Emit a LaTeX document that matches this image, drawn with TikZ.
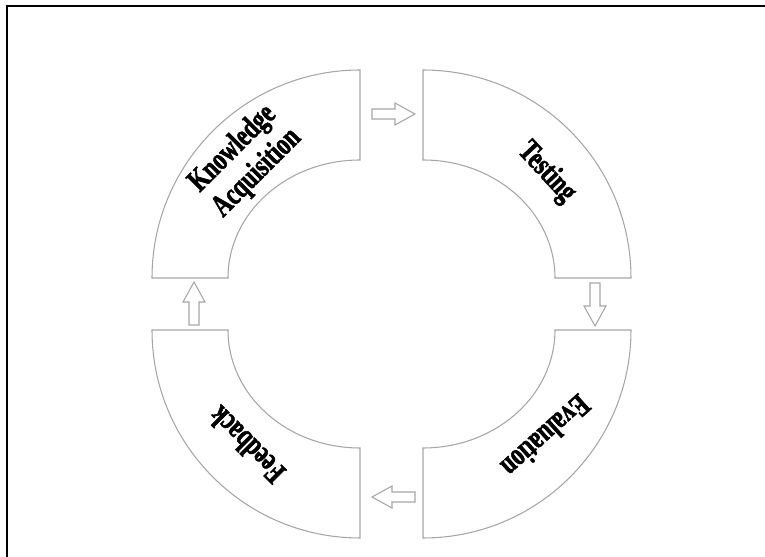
\documentclass[tikz,border=0pt]{standalone}
\usepackage{fontspec}
\setmainfont{Liberation Serif}
\newfontfamily\stagefont[FakeStretch=0.72, FakeBold=1.8]{Liberation Serif}
\usetikzlibrary{calc}

\tikzset{
    piece/.style={draw=black!35, line width=0.6pt, fill=white},
    stage/.style={font=\stagefont\bfseries\fontsize{18}{19.5}\selectfont, align=center, inner sep=0pt},
    blockarrow/.pic={\draw[draw=black!35, line width=0.6pt] (0,-5) -- (23,-5) -- (23,-11)
        -- (43,0) -- (23,11) -- (23,5) -- (0,5) -- cycle;}
}

\begin{document}
\begin{tikzpicture}[x=0.02cm, y=0.02cm]
    \useasboundingbox (-391.5,-253) rectangle (373.5,304);

    \coordinate (K) at (-31.5, 26);
    \coordinate (T) at (31.5, 26);
    \coordinate (E) at (31.5, -26);
    \coordinate (F) at (-31.5, -26);

    \draw[line width=1.2pt] (-384.5,-253) -- (-384.5,298) -- (373.5,298);

    \draw[piece] ($(K)+(-208,0)$) arc[start angle=180, end angle=90, radius=208]
        -- ++(0,-90) arc[start angle=90, end angle=180, x radius=132, y radius=118] -- cycle;
    \draw[piece] ($(T)+(0,208)$) arc[start angle=90, end angle=0, radius=208]
        -- ++(-76,0) arc[start angle=0, end angle=90, x radius=132, y radius=118] -- cycle;
    \draw[piece] ($(E)+(208,0)$) arc[start angle=0, end angle=-90, radius=208]
        -- ++(0,90) arc[start angle=-90, end angle=0, x radius=132, y radius=118] -- cycle;
    \draw[piece] ($(F)+(0,-208)$) arc[start angle=-90, end angle=-180, radius=208]
        -- ++(76,0) arc[start angle=180, end angle=270, x radius=132, y radius=118] -- cycle;

    \node[stage, rotate=45] (ka) at ($(K)+(-115,117)$) {Knowledge\\Acquisition};
    \node[stage, rotate=-47] (ts) at ($(T)+(123.5,105.5)$) {Testing};
    \node[stage, rotate=222] (ev) at ($(E)+(123,-106.5)$) {Evaluation};
    \node[stage, rotate=135] (fb) at ($(F)+(-113.5,-115)$) {Feedback};

    \pic at (-19.5,190) {blockarrow};
    \pic[rotate=-90] at (203.5,21) {blockarrow};
    \pic[rotate=180] at (23.5,-193) {blockarrow};
    \pic[rotate=90] at (-197.5,-21) {blockarrow};
\end{tikzpicture}
\end{document}
